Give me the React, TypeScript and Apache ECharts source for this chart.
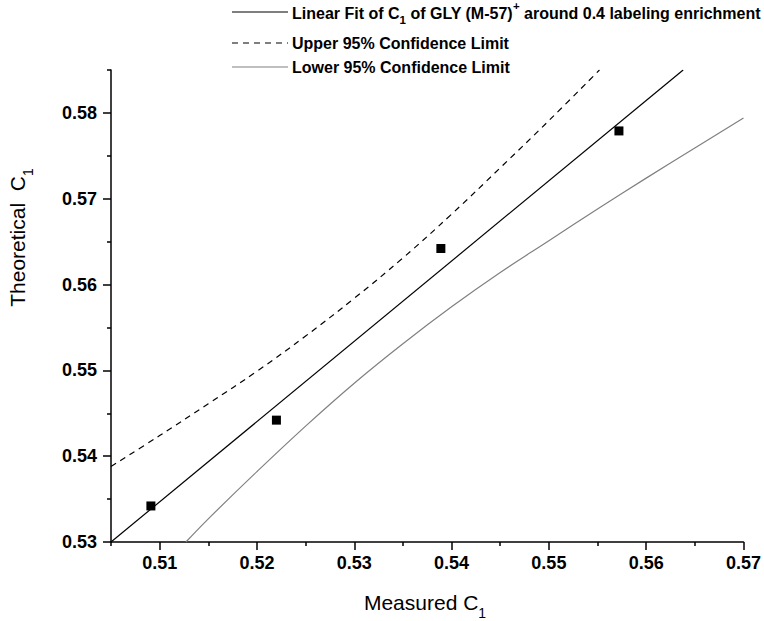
import React, { useEffect, useRef } from "react";
import * as echarts from "echarts";

// Measured vs theoretical C1 for GLY (M-57)+
const measuredC1 = [0.5091, 0.522, 0.5389, 0.5572];
const theoreticalC1 = [0.5342, 0.5442, 0.5642, 0.5779];

// Linear fit line (end points)
const fitX = [0.505, 0.5638];
const fitY = [0.53, 0.585];

// Upper 95% confidence limit
const upperX = [0.505, 0.51, 0.515, 0.52, 0.525, 0.53, 0.535, 0.54, 0.545, 0.55, 0.5552];
const upperY = [0.5388, 0.5424, 0.5461, 0.5499, 0.554, 0.5584, 0.5631, 0.5682, 0.5736, 0.5791, 0.585];

// Lower 95% confidence limit
const lowerX = [0.5127, 0.515, 0.52, 0.525, 0.53, 0.535, 0.54, 0.545, 0.55, 0.555, 0.56, 0.565, 0.57];
const lowerY = [0.53, 0.5327, 0.5382, 0.5435, 0.5485, 0.5531, 0.5574, 0.5614, 0.5651, 0.5688, 0.5724, 0.5759, 0.5794];

// Axis ticks
const xTicks = [0.51, 0.52, 0.53, 0.54, 0.55, 0.56, 0.57];
const xMinorTicks = [0.505, 0.515, 0.525, 0.535, 0.545, 0.555, 0.565];
const yTicks = [0.53, 0.54, 0.55, 0.56, 0.57, 0.58];
const yMinorTicks = [0.535, 0.545, 0.555, 0.565, 0.575, 0.585];

const legendLabels = ["Upper 95% Confidence Limit", "Lower 95% Confidence Limit"];

const FONT = "'Liberation Sans', Arial, Helvetica, sans-serif";

const zip = (xs: number[], ys: number[]) => xs.map((x, i) => [x, ys[i]]);

export default function App() {
  const ref = useRef<HTMLDivElement>(null);

  useEffect(() => {
    if (!ref.current) return;
    const chart = echarts.init(ref.current, undefined, { renderer: "svg" });

    const axisLineStyle = { color: "#000", width: 1.5 };
    const tickLabel = {
      fontSize: 18,
      fontWeight: "bold" as const,
      color: "#000",
      fontFamily: FONT,
    };

    const boldRich = (size: number, lh: number) => ({
      fontSize: size,
      fontWeight: "bold",
      fontFamily: FONT,
      fill: "#000",
      lineHeight: lh,
    });

    const legendText = (y: number, text: string) => ({
      type: "text",
      x: 292,
      y,
      style: {
        text,
        align: "left",
        verticalAlign: "middle",
        fontSize: 16,
        fontWeight: "bold",
        fontFamily: FONT,
        fill: "#000",
      },
    });

    chart.setOption({
      animation: false,
      backgroundColor: "#fff",
      grid: { left: 111, right: 18, top: 70, bottom: 79, containLabel: false },
      xAxis: [
        {
          type: "value",
          min: 0.505,
          max: 0.57,
          position: "bottom",
          axisLine: { lineStyle: axisLineStyle },
          axisTick: { customValues: xTicks, length: 8, lineStyle: axisLineStyle },
          axisLabel: {
            customValues: xTicks,
            formatter: (v: number) => v.toFixed(2),
            margin: 12,
            ...tickLabel,
          },
          splitLine: { show: false },
        },
        {
          type: "value",
          min: 0.505,
          max: 0.57,
          position: "bottom",
          axisLine: { show: false },
          axisTick: { customValues: xMinorTicks, length: 4, lineStyle: axisLineStyle },
          axisLabel: { show: false },
          splitLine: { show: false },
        },
      ],
      yAxis: [
        {
          type: "value",
          min: 0.53,
          max: 0.585,
          position: "left",
          axisLine: { lineStyle: axisLineStyle },
          axisTick: { customValues: yTicks, length: 8, lineStyle: axisLineStyle },
          axisLabel: {
            customValues: yTicks,
            formatter: (v: number) => v.toFixed(2),
            margin: 14,
            ...tickLabel,
          },
          splitLine: { show: false },
        },
        {
          type: "value",
          min: 0.53,
          max: 0.585,
          position: "left",
          axisLine: { show: false },
          axisTick: { customValues: yMinorTicks, length: 4, lineStyle: axisLineStyle },
          axisLabel: { show: false },
          splitLine: { show: false },
        },
      ],
      series: [
        {
          name: "Upper 95% Confidence Limit",
          type: "line",
          data: zip(upperX, upperY),
          showSymbol: false,
          smooth: 0.4,
          lineStyle: { color: "#000", width: 1.2, type: [6, 5] },
          z: 2,
        },
        {
          name: "Lower 95% Confidence Limit",
          type: "line",
          data: zip(lowerX, lowerY),
          showSymbol: false,
          smooth: 0.4,
          lineStyle: { color: "#808080", width: 1.2 },
          z: 2,
        },
        {
          name: "Linear Fit",
          type: "line",
          data: zip(fitX, fitY),
          showSymbol: false,
          lineStyle: { color: "#000", width: 1.2 },
          z: 3,
        },
        {
          name: "Data",
          type: "scatter",
          data: zip(measuredC1, theoreticalC1),
          symbol: "rect",
          symbolSize: 9,
          itemStyle: { color: "#000", opacity: 1 },
          z: 4,
        },
      ],
      graphic: [
        // legend
        {
          type: "line",
          shape: { x1: 232, y1: 12, x2: 288, y2: 12 },
          style: { stroke: "#000", lineWidth: 1.2 },
        },
        {
          type: "text",
          x: 292,
          y: 13,
          style: {
            text: "{b|Linear Fit of C}{sub|1}{b| of GLY (M-57)}{sup|+}{b| around 0.4 labeling enrichment}",
            align: "left",
            verticalAlign: "middle",
            rich: {
              b: boldRich(16, 26),
              sub: { ...boldRich(11.5, 11.5), verticalAlign: "bottom" },
              sup: { ...boldRich(11.5, 14.5), verticalAlign: "top" },
            },
          },
        },
        {
          type: "line",
          shape: { x1: 232, y1: 43, x2: 288, y2: 43 },
          style: { stroke: "#000", lineWidth: 1.2, lineDash: [6, 5] },
        },
        legendText(43, legendLabels[0]),
        {
          type: "line",
          shape: { x1: 232, y1: 67, x2: 288, y2: 67 },
          style: { stroke: "#808080", lineWidth: 1.2 },
        },
        legendText(67, legendLabels[1]),
        // axis titles
        {
          type: "text",
          x: 425,
          y: 602.5,
          style: {
            text: "{m|Measured C}{s|1}",
            align: "center",
            verticalAlign: "middle",
            rich: {
              m: { fontSize: 21, fontFamily: FONT, fill: "#000", lineHeight: 34 },
              s: { fontSize: 14, fontFamily: FONT, fill: "#000", lineHeight: 14, verticalAlign: "bottom" },
            },
          },
        },
        {
          type: "text",
          x: 17.6,
          y: 237.5,
          rotation: Math.PI / 2,
          style: {
            text: "{m|Theoretical\u00a0\u00a0C}{s|1}",
            align: "center",
            verticalAlign: "middle",
            rich: {
              m: { fontSize: 21, fontFamily: FONT, fill: "#000", lineHeight: 34 },
              s: { fontSize: 14, fontFamily: FONT, fill: "#000", lineHeight: 14, verticalAlign: "bottom" },
            },
          },
        },
      ],
    });

    return () => chart.dispose();
  }, []);

  return (
    <div
      ref={ref}
      style={{ position: "fixed", left: 0, top: 0, width: 764, height: 621, background: "#fff" }}
    />
  );
}
